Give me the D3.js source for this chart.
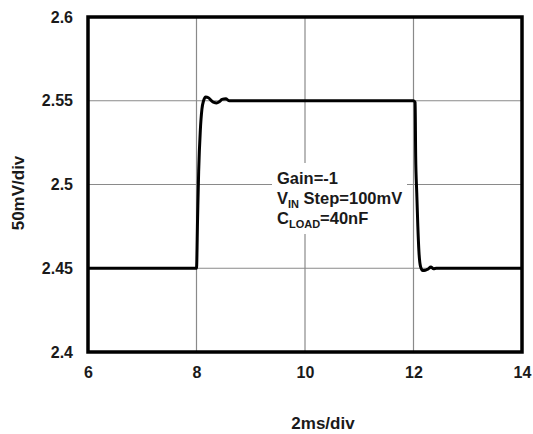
<!DOCTYPE html>
<html>
<head>
<meta charset="utf-8">
<script src="https://cdn.jsdelivr.net/npm/d3@7"></script>
<style>
  body { margin: 0; background: #fff; }
  text { font-family: "Liberation Sans", Arial, sans-serif; font-weight: bold; fill: #1a1a1a; }
</style>
</head>
<body>
<div id="chart"></div>
<script>
// time in ms, output in V
const timeMs = [6, 8.0, 8.02, 8.04, 8.07, 8.1, 8.13, 8.17, 8.22, 8.27, 8.32, 8.37, 8.42, 8.47, 8.54, 8.6, 12.0, 12.03, 12.04, 12.06, 12.08, 12.1, 12.13, 12.17, 12.22, 12.27, 12.32, 12.37, 12.42, 14];
const volts  = [2.45, 2.45, 2.48, 2.508, 2.532, 2.545, 2.55, 2.5522, 2.5518, 2.5502, 2.549, 2.5487, 2.5494, 2.5508, 2.5512, 2.55, 2.55, 2.549, 2.517, 2.495, 2.475, 2.46, 2.451, 2.4487, 2.4488, 2.4496, 2.4507, 2.4497, 2.45, 2.45];
const xTicks = [6, 8, 10, 12, 14];
const yTicks = [2.4, 2.45, 2.5, 2.55, 2.6];
const notes = ["Gain=-1", "V|IN| Step=100mV", "C|LOAD|=40nF"];

const width = 533, height = 434;
const margin = { top: 17, right: 11, bottom: 82, left: 88 };

const svg = d3.select("#chart")
    .append("svg")
    .attr("width", width)
    .attr("height", height);

const x = d3.scaleLinear()
    .domain([6, 14])
    .range([margin.left, width - margin.right]);

const y = d3.scaleLinear()
    .domain([2.4, 2.6])
    .range([height - margin.bottom, margin.top]);

// grid
svg.append("g")
    .selectAll("line")
    .data(xTicks.slice(1, -1))
    .enter()
    .append("line")
    .attr("x1", d => x(d)).attr("x2", d => x(d))
    .attr("y1", y(2.4)).attr("y2", y(2.6))
    .attr("stroke", "#8a8a8a")
    .attr("stroke-width", 1.2);

svg.append("g")
    .selectAll("line")
    .data(yTicks.slice(1, -1))
    .enter()
    .append("line")
    .attr("x1", x(6)).attr("x2", x(14))
    .attr("y1", d => y(d)).attr("y2", d => y(d))
    .attr("stroke", "#8a8a8a")
    .attr("stroke-width", 1.2);

// white box behind the note
svg.append("rect")
    .attr("x", 272)
    .attr("y", 163)
    .attr("width", 135)
    .attr("height", 71)
    .attr("fill", "#fff");

// signal
const line = d3.line()
    .x((d, i) => x(timeMs[i]))
    .y(d => y(d))
    .curve(d3.curveMonotoneX);

svg.append("path")
    .datum(volts)
    .attr("d", line)
    .attr("fill", "none")
    .attr("stroke", "#000")
    .attr("stroke-width", 3)
    .attr("stroke-linejoin", "round");

// frame
svg.append("rect")
    .attr("x", x(6))
    .attr("y", y(2.6))
    .attr("width", x(14) - x(6))
    .attr("height", y(2.4) - y(2.6))
    .attr("fill", "none")
    .attr("stroke", "#000")
    .attr("stroke-width", 3.5);

// axes (labels only)
const xAxis = svg.append("g")
    .attr("transform", `translate(0, ${y(2.4)})`)
    .call(d3.axisBottom(x).tickValues(xTicks).tickSize(0).tickPadding(15).tickFormat(d3.format("d")));
xAxis.select(".domain").remove();
xAxis.selectAll("text")
    .attr("fill", "#1a1a1a")
    .style("font-size", "16px")
    .style("font-family", "'Liberation Sans', Arial, sans-serif")
    .style("font-weight", "bold");

const yAxis = svg.append("g")
    .attr("transform", `translate(${x(6)}, 0)`)
    .call(d3.axisLeft(y).tickValues(yTicks).tickSize(0).tickPadding(15).tickFormat(d => d3.format("")(+d.toFixed(2))));
yAxis.select(".domain").remove();
yAxis.selectAll("text")
    .attr("fill", "#1a1a1a")
    .style("font-size", "16px")
    .style("font-family", "'Liberation Sans', Arial, sans-serif")
    .style("font-weight", "bold");

// axis titles
svg.append("text")
    .attr("x", 323)
    .attr("y", 429)
    .attr("text-anchor", "middle")
    .style("font-size", "17px")
    .text("2ms/div");

svg.append("text")
    .attr("transform", "translate(24, 193) rotate(-90)")
    .attr("text-anchor", "middle")
    .style("font-size", "17px")
    .text("50mV/div");

// note with subscripts
const note = svg.append("text")
    .attr("x", 277)
    .attr("y", 184)
    .style("font-size", "16.5px");

notes.forEach((s, i) => {
    const parts = s.split("|");
    parts.forEach((p, j) => {
        const ts = note.append("tspan").text(p);
        if (j === 0) ts.attr("x", 277).attr("y", 184 + i * 20);
        if (j === 1) ts.attr("dy", 4).style("font-size", "11px");
        if (j === 2) ts.attr("dy", -4);
    });
});
</script>
</body>
</html>
